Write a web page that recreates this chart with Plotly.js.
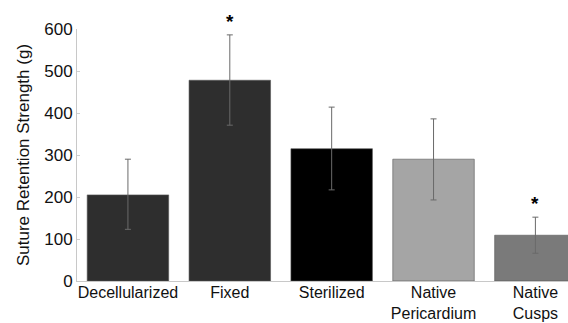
<!DOCTYPE html>
<html>
<head>
<meta charset="utf-8">
<script src="https://cdn.plot.ly/plotly-3.0.1.min.js"></script>
<style>html,body{margin:0;padding:0;background:#fff;}#chart{width:568px;height:323px;}</style>
</head>
<body>
<div id="chart"></div>
<script>
const categories = ["Decellularized", "Fixed", "Sterilized", "Native<br>Pericardium", "Native<br>Cusps"];
const means = [205, 478, 315, 290, 109];
const errPlus = [85, 108, 99, 96, 43];
const errMinus = [82, 107, 98, 97, 43];
const barColors = ["#2e2e2e", "#2e2e2e", "#000000", "#a5a5a5", "#7a7a7a"];
const significant = [false, true, false, false, true];

const trace = {
  type: "bar",
  x: categories.map((c, i) => i),
  y: means,
  width: 0.8,
  marker: {color: barColors, line: {color: "#555", width: 0.6}},
  error_y: {type: "data", symmetric: false, array: errPlus, arrayminus: errMinus,
            color: "#6a6a6a", thickness: 1, width: 3},
  hoverinfo: "none"
};

const annotations = [];
significant.forEach((s, i) => {
  if (s) annotations.push({x: i, y: means[i] + errPlus[i], yref: "y", xref: "x",
    text: "<b>*</b>", showarrow: false, yanchor: "bottom", yshift: 1,
    font: {family: "Liberation Sans, Arial, sans-serif", size: 19, color: "#000"}});
});

const layout = {
  width: 568, height: 323,
  margin: {l: 77, r: 0, t: 29, b: 42},
  paper_bgcolor: "#fff", plot_bgcolor: "#fff",
  showlegend: false,
  font: {family: "Liberation Sans, Arial, sans-serif", color: "#111"},
  xaxis: {
    range: [-0.5, 4.32], tickmode: "array", tickvals: categories.map((c, i) => i),
    ticktext: categories, showline: true, linecolor: "#c8c8c8", linewidth: 1,
    ticks: "", showgrid: false, zeroline: false, tickfont: {size: 16, color: "#111"},
    ticklabelstandoff: -3,
    fixedrange: true
  },
  yaxis: {
    range: [0, 600], tickvals: [0, 100, 200, 300, 400, 500, 600],
    showline: true, linecolor: "#c8c8c8", linewidth: 1, ticks: "inside", ticklen: 3,
    tickcolor: "#d0d0d0", showgrid: false, zeroline: false,
    tickfont: {size: 17, color: "#111"},
    title: {text: "Suture Retention Strength (g)", font: {size: 17, color: "#111"}, standoff: 10},
    fixedrange: true
  },
  annotations: annotations,
  bargap: 0.2
};

Plotly.newPlot("chart", [trace], layout, {displayModeBar: false, staticPlot: true});
</script>
</body>
</html>
